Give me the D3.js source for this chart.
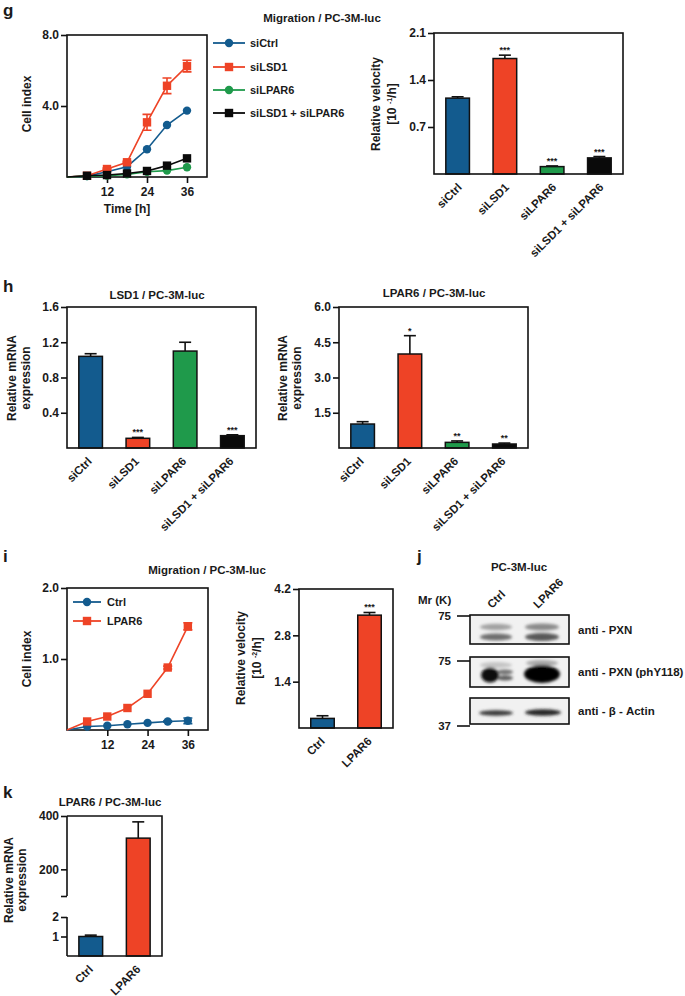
<!DOCTYPE html>
<html><head><meta charset="utf-8">
<script src="https://cdn.jsdelivr.net/npm/d3@7"></script>
<style>
body{margin:0;background:#fff}
svg text{font-family:"Liberation Sans",Arial,Helvetica,sans-serif;font-weight:bold;fill:#1a1a1a}
</style></head><body>
<svg id="fig" width="685" height="996"></svg>
<script>
// ---------- DATA ----------
const timeH = [0, 6, 12, 18, 24, 30, 36];
const timeTicks = [12, 24, 36];

// panel g : migration curves
const gSeries = ["siCtrl", "siLSD1", "siLPAR6", "siLSD1 + siLPAR6"];
const gCtrl   = [0, 0.05, 0.30, 0.58, 1.56, 2.93, 3.74];
const gLSD1   = [0, 0.07, 0.45, 0.83, 3.08, 5.14, 6.25];
const gLSD1Err= [0, 0, 0.05, 0.05, 0.45, 0.44, 0.33];
const gLPAR6  = [0, 0.05, 0.08, 0.15, 0.30, 0.36, 0.55];
const gCombo  = [0, 0.07, 0.11, 0.20, 0.34, 0.64, 1.05];
const gTicksY = [4.0, 8.0];

// panel g : relative velocity
const siCats = ["siCtrl", "siLSD1", "siLPAR6", "siLSD1 + siLPAR6"];
const gVel    = [1.13, 1.72, 0.11, 0.24];
const gVelErr = [0.02, 0.05, 0.01, 0.02];
const gVelSig = ["", "***", "***", "***"];
const gVelTicks = [0.7, 1.4, 2.1];

// panel h
const hLSD1    = [1.04, 0.11, 1.10, 0.14];
const hLSD1Err = [0.03, 0.01, 0.10, 0.01];
const hLSD1Sig = ["", "***", "", "***"];
const hLSD1Ticks = [0.4, 0.8, 1.2, 1.6];
const hLPAR6    = [1.02, 4.00, 0.24, 0.17];
const hLPAR6Err = [0.10, 0.78, 0.06, 0.04];
const hLPAR6Sig = ["", "*", "**", "**"];
const hLPAR6Ticks = [1.5, 3.0, 4.5, 6.0];

// panel i
const iSeries = ["Ctrl", "LPAR6"];
const iCtrl     = [0, 0.05, 0.06, 0.08, 0.10, 0.12, 0.13];
const iCtrlErr  = [0, 0, 0, 0, 0, 0.01, 0.04];
const iLPAR6    = [0, 0.12, 0.19, 0.31, 0.51, 0.88, 1.46];
const iLPAR6Err = [0, 0, 0, 0, 0, 0.02, 0.05];
const iTicksY = [1.0, 2.0];
const ctrlCats = ["Ctrl", "LPAR6"];
const iVel    = [0.29, 3.41];
const iVelErr = [0.08, 0.08];
const iVelSig = ["", "***"];
const iVelTicks = [1.4, 2.8, 4.2];

// panel j (western blot)
const blotLanes = ["Ctrl", "LPAR6"];
const blotRows  = ["anti - PXN", "anti - PXN (phY118)", "anti - β - Actin"];
const mwMarkers = ["75", "75", "37"];

// panel k
const kVal = [1.0, 317];
const kErr = [0.07, 61];
const kTicks = [1, 2, 100, 200, 400];

// ---------- STYLE ----------
const COL = {blue: "#135b8e", red: "#ee4326", green: "#1f9a4b", black: "#0a0a0a"};
const FONT = '"Liberation Sans",Arial,Helvetica,sans-serif';
const svg = d3.select("#fig");
svg.append("rect").attr("width", 685).attr("height", 996).attr("fill", "#fff");

function txt(g, x, y, s, size, anchor) {
  return g.append("text").attr("x", x).attr("y", y).attr("font-size", size)
    .attr("text-anchor", anchor || "middle").text(s);
}
function rotLabel(g, x, y, lines, size) {
  lines.forEach((l, i) => {
    const t = g.append("text").attr("transform", `translate(${l.x},${y}) rotate(-90)`)
      .attr("text-anchor", "middle").attr("font-size", size);
    if (typeof l.s === "string") t.text(l.s);
    else l.s(t);
  });
}
function frame(g, x0, x1, yT, yB) {
  g.append("rect").attr("x", x0).attr("y", yT).attr("width", x1 - x0).attr("height", yB - yT)
    .attr("fill", "none").attr("stroke", "#111").attr("stroke-width", 1.6);
}
function yAxis(g, y, x0, ticks, fmt) {
  const ax = g.append("g").attr("transform", `translate(${x0},0)`)
    .call(d3.axisLeft(y).tickValues(ticks).tickSize(6).tickPadding(2).tickFormat(fmt));
  ax.attr("font-family", FONT).attr("font-size", 12).attr("font-weight", "bold");
  ax.select(".domain").remove();
  ax.selectAll("line").attr("stroke", "#111").attr("stroke-width", 1.6);
  ax.selectAll("text").attr("fill", "#1a1a1a");
  return ax;
}
function catLabels(g, x, cats, yB, dx) {
  cats.forEach(c => {
    g.append("text")
      .attr("transform", `translate(${x(c) + x.bandwidth() / 2 + dx},${yB + 14}) rotate(-45)`)
      .attr("text-anchor", "end").attr("font-size", 11.5).text(c);
  });
}

function barChart(o) {
  const g = svg.append("g");
  const x = d3.scaleBand().domain(o.cats).range([o.x0, o.x1]).paddingInner(0.5).paddingOuter(0.25);
  const y = o.y || d3.scaleLinear().domain([0, o.max]).range([o.yB, o.yT]);
  const cx = i => x(o.cats[i]) + x.bandwidth() / 2;
  // error bars (upper)
  o.vals.forEach((v, i) => {
    const yt = y(v + o.errs[i]);
    g.append("line").attr("x1", cx(i)).attr("x2", cx(i)).attr("y1", y(v)).attr("y2", yt)
      .attr("stroke", "#111").attr("stroke-width", 1.6);
    g.append("line").attr("x1", cx(i) - 6).attr("x2", cx(i) + 6).attr("y1", yt).attr("y2", yt)
      .attr("stroke", "#111").attr("stroke-width", 1.6);
    if (o.sig && o.sig[i]) txt(g, cx(i), yt - 2, o.sig[i], 9);
  });
  g.selectAll("rect.bar").data(o.vals).join("rect").attr("class", "bar")
    .attr("x", (d, i) => x(o.cats[i])).attr("width", x.bandwidth())
    .attr("y", d => y(d)).attr("height", d => y(0) - y(d))
    .attr("fill", (d, i) => o.colors[i]).attr("stroke", "#111").attr("stroke-width", 1.5);
  if (!o.noFrame) frame(g, o.x0, o.x1, o.yT, o.yB);
  if (o.ticks) yAxis(g, y, o.x0, o.ticks, d3.format(".1f"));
  catLabels(g, x, o.cats, o.yB, o.dx || 4);
  return {g, x, y};
}

function lineChart(o) {
  const g = svg.append("g");
  const x = d3.scaleLinear().domain([0, 42]).range([o.x0, o.x1]);
  const y = d3.scaleLinear().domain([0, o.max]).range([o.yB, o.yT]);
  frame(g, o.x0, o.x1, o.yT, o.yB);
  yAxis(g, y, o.x0, o.ticks, d3.format(".1f"));
  const xa = g.append("g").attr("transform", `translate(0,${o.yB})`)
    .call(d3.axisBottom(x).tickValues(timeTicks).tickSize(6).tickPadding(4).tickFormat(d3.format("d")));
  xa.attr("font-family", FONT).attr("font-size", 12).attr("font-weight", "bold");
  xa.select(".domain").remove();
  xa.selectAll("line").attr("stroke", "#111").attr("stroke-width", 1.6);
  xa.selectAll("text").attr("fill", "#1a1a1a");
  const line = d3.line().x((d, i) => x(timeH[i])).y(d => y(d));
  o.series.forEach(s => {
    g.append("path").datum(s.vals).attr("d", line).attr("fill", "none")
      .attr("stroke", s.color).attr("stroke-width", 1.6);
    if (s.err) s.vals.forEach((v, i) => {
      const e = s.err[i]; if (!e) return;
      const px = x(timeH[i]);
      g.append("path").attr("d", `M${px},${y(v - e)}V${y(v + e)}M${px - 4.5},${y(v + e)}H${px + 4.5}M${px - 4.5},${y(v - e)}H${px + 4.5}`)
        .attr("stroke", s.color).attr("stroke-width", 1.6).attr("fill", "none");
    });
    s.vals.forEach((v, i) => {
      if (timeH[i] === 0) return;
      marker(g, x(timeH[i]), y(v), s.shape, s.color);
    });
  });
  return {g, x, y};
}
function marker(g, px, py, shape, color) {
  if (shape === "circle") g.append("circle").attr("cx", px).attr("cy", py).attr("r", 4.2).attr("fill", color);
  else g.append("rect").attr("x", px - 4.2).attr("y", py - 4.2).attr("width", 8.4).attr("height", 8.4).attr("fill", color);
}
function legend(g, items, x0, x1, xt, ys) {
  items.forEach((it, i) => {
    g.append("line").attr("x1", x0).attr("x2", x1).attr("y1", ys[i]).attr("y2", ys[i])
      .attr("stroke", it.color).attr("stroke-width", 1.8);
    marker(g, (x0 + x1) / 2, ys[i], it.shape, it.color);
    txt(g, xt, ys[i] + 4, it.name, 11, "start");
  });
}
function velLabel(t, exp) {
  t.append("tspan").text("[10 ");
  t.append("tspan").attr("font-size", 7).attr("dy", -4).text(exp);
  t.append("tspan").attr("dy", 4).text("/h]");
}

// ---------- PANEL LETTERS ----------
const L = svg.append("g");
[["g", 3, 16], ["h", 3, 292], ["i", 3, 562], ["j", 417, 562], ["k", 3, 798]].forEach(d =>
  txt(L, d[1], d[2], d[0], 17, "start"));

// ---------- PANEL g ----------
const gColors = [COL.blue, COL.red, COL.green, COL.black];
const gShapes = ["circle", "rect", "circle", "rect"];
txt(svg, 322, 22, "Migration / PC-3M-luc", 11.5);
const gl = lineChart({x0: 67, x1: 207, yT: 35, yB: 177, max: 8, ticks: gTicksY,
  series: [
    {vals: gCtrl, color: COL.blue, shape: "circle"},
    {vals: gLSD1, err: gLSD1Err, color: COL.red, shape: "rect"},
    {vals: gLPAR6, color: COL.green, shape: "circle"},
    {vals: gCombo, color: COL.black, shape: "rect"}
  ]});
txt(svg, 127, 213, "Time [h]", 12);
rotLabel(svg, 0, 104, [{x: 31, s: "Cell index"}], 12);
legend(svg, gSeries.map((n, i) => ({name: n, color: gColors[i], shape: gShapes[i]})), 213, 245, 250, [43, 67, 90, 113]);

barChart({cats: siCats, vals: gVel, errs: gVelErr, sig: gVelSig, colors: gColors,
  x0: 434, x1: 623, yT: 33, yB: 174, max: 2.1, ticks: gVelTicks, dx: 5});
rotLabel(svg, 0, 104, [{x: 380, s: "Relative velocity"}, {x: 396, s: t => velLabel(t, "-1")}], 12);

// ---------- PANEL h ----------
txt(svg, 157, 299, "LSD1 / PC-3M-luc", 11.5);
barChart({cats: siCats, vals: hLSD1, errs: hLSD1Err, sig: hLSD1Sig, colors: gColors,
  x0: 67, x1: 256, yT: 307, yB: 448, max: 1.6, ticks: hLSD1Ticks, dx: 2});
rotLabel(svg, 0, 378, [{x: 16, s: "Relative mRNA"}, {x: 30, s: "expression"}], 12);

txt(svg, 434, 297, "LPAR6 / PC-3M-luc", 11.5);
barChart({cats: siCats, vals: hLPAR6, errs: hLPAR6Err, sig: hLPAR6Sig, colors: gColors,
  x0: 339, x1: 528, yT: 307, yB: 448, max: 6, ticks: hLPAR6Ticks, dx: 2});
rotLabel(svg, 0, 378, [{x: 287, s: "Relative mRNA"}, {x: 301, s: "expression"}], 12);

// ---------- PANEL i ----------
txt(svg, 207, 574, "Migration / PC-3M-luc", 11.5);
lineChart({x0: 67, x1: 208, yT: 588, yB: 730, max: 2, ticks: iTicksY,
  series: [
    {vals: iCtrl, err: iCtrlErr, color: COL.blue, shape: "circle"},
    {vals: iLPAR6, err: iLPAR6Err, color: COL.red, shape: "rect"}
  ]});
legend(svg, iSeries.map((n, i) => ({name: n, color: [COL.blue, COL.red][i], shape: ["circle", "rect"][i]})), 73, 101, 107, [602, 621]);
rotLabel(svg, 0, 659, [{x: 31, s: "Cell index"}], 12);

barChart({cats: ctrlCats, vals: iVel, errs: iVelErr, sig: iVelSig, colors: [COL.blue, COL.red],
  x0: 299, x1: 393, yT: 589, yB: 728, max: 4.2, ticks: iVelTicks, dx: 3});
rotLabel(svg, 0, 658, [{x: 245, s: "Relative velocity"}, {x: 261, s: t => velLabel(t, "-2")}], 12);

// ---------- PANEL j (western blot) ----------
(function () {
  const g = svg.append("g");
  const defs = svg.append("defs");
  defs.append("filter").attr("id", "blur").attr("x", "-50%").attr("y", "-50%").attr("width", "200%").attr("height", "200%")
    .append("feGaussianBlur").attr("stdDeviation", 1.7);
  txt(g, 519, 571, "PC-3M-luc", 11.5);
  txt(g, 418, 604, "Mr (K)", 11.5, "start");
  const lane = d3.scalePoint().domain(blotLanes).range([496, 542]);
  blotLanes.forEach(l => {
    g.append("text").attr("transform", `translate(${lane(l) - 4},${609}) rotate(-45)`)
      .attr("text-anchor", "start").attr("font-size", 11.5).text(l);
  });
  const boxes = [[615, 644], [657, 687], [698, 724]];
  const markY = [616, 661, 726];
  // band specs: [lane, dx, dy(from box top), rx, ry, colour]
  const bands = [
    [[0, 0, 12, 16, 3.2, "#a2a2a2"], [0, 0, 22, 16, 3.6, "#6e6e6e"], [1, 0, 12, 17, 3.6, "#8a8a8a"], [1, 0, 22, 17, 4, "#585858"]],
    [[0, 0, 8, 16, 3, "#c4c4c4"], [0, 9, 15, 8, 2.6, "#707070"], [0, 9, 21, 8, 2.6, "#5a5a5a"], [0, -6, 18, 9, 7.5, "#0d0d0d"],
     [1, 0, 6, 16, 3, "#a8a8a8"], [1, 0, 17, 18, 9, "#050505"]],
    [[0, 0, 15, 17, 2.8, "#3a3a3a"], [1, 1, 14.5, 18, 3.2, "#262626"]]
  ];
  boxes.forEach((b, r) => {
    const cid = "clipb" + r;
    defs.append("clipPath").attr("id", cid).append("rect").attr("x", 470).attr("y", b[0]).attr("width", 99).attr("height", b[1] - b[0]);
    const bg = g.append("g").attr("clip-path", `url(#${cid})`);
    bg.append("rect").attr("x", 470).attr("y", b[0]).attr("width", 99).attr("height", b[1] - b[0]).attr("fill", "#f1f1f1");
    const bb = bg.append("g").attr("filter", "url(#blur)");
    bands[r].forEach(s => {
      bb.append("ellipse").attr("cx", lane(blotLanes[s[0]]) + s[1]).attr("cy", b[0] + s[2])
        .attr("rx", s[3]).attr("ry", s[4]).attr("fill", s[5]);
    });
    g.append("rect").attr("x", 470).attr("y", b[0]).attr("width", 99).attr("height", b[1] - b[0])
      .attr("fill", "none").attr("stroke", "#111").attr("stroke-width", 1.6);
    g.append("line").attr("x1", 457).attr("x2", 470).attr("y1", markY[r]).attr("y2", markY[r])
      .attr("stroke", "#111").attr("stroke-width", 1.6);
    txt(g, 451, markY[r] + 4, mwMarkers[r], 11.5, "end");
    txt(g, 578, (b[0] + b[1]) / 2 + 4, blotRows[r], 11.5, "start");
  });
})();

// ---------- PANEL k ----------
(function () {
  txt(svg, 110, 806, "LPAR6 / PC-3M-luc", 11.5);
  const y = d3.scaleLinear().domain([0, 2, 100, 400]).range([956, 917, 896, 816]);
  const r = barChart({cats: ctrlCats, vals: kVal, errs: kErr, colors: [COL.blue, COL.red],
    x0: 67, x1: 162, yT: 816, yB: 956, y: y, noFrame: true, dx: 3});
  const g = r.g;
  g.append("path").attr("d", `M67,816H162V956H67`).attr("fill", "none").attr("stroke", "#111").attr("stroke-width", 1.6);
  g.append("path").attr("d", `M67,${y(400)}V${y(100)}M67,${y(2)}V${y(0)}`).attr("fill", "none").attr("stroke", "#111").attr("stroke-width", 1.6);
  yAxis(g, y, 67, kTicks, d => d === 100 ? "" : d3.format("d")(d));
  rotLabel(svg, 0, 880, [{x: 13, s: "Relative mRNA"}, {x: 26, s: "expression"}], 12);
})();
</script>
</body></html>
